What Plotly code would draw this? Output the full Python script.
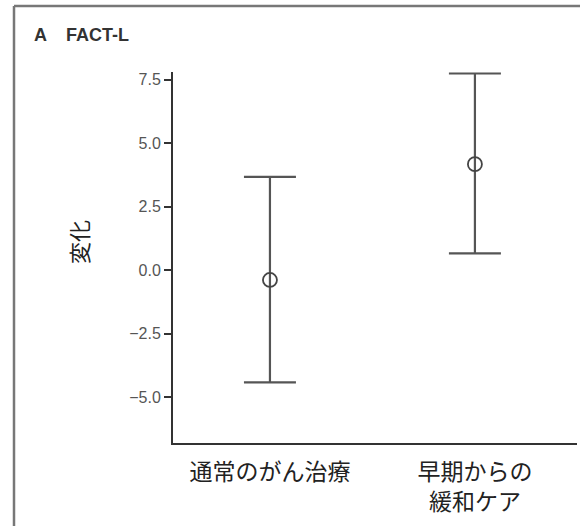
import plotly.graph_objects as go

categories = ["通常のがん治療", "早期からの<br>緩和ケア"]
means = [-0.39, 4.17]
upper = [3.67, 7.74]
lower = [-4.42, 0.66]
ytick_vals = [-5.0, -2.5, 0.0, 2.5, 5.0, 7.5]
ytick_text = ["−5.0", "−2.5", "0.0", "2.5", "5.0", "7.5"]

xpos = list(range(len(categories)))
err_plus = [u - m for u, m in zip(upper, means)]
err_minus = [m - l for m, l in zip(means, lower)]

fig = go.Figure()
fig.add_trace(go.Scatter(
    x=xpos, y=means, mode="markers",
    marker=dict(symbol="circle-open", size=14, color="#444444", line=dict(width=1.8)),
    error_y=dict(type="data", symmetric=False, array=err_plus, arrayminus=err_minus,
                 color="#555555", thickness=2.2, width=26),
    cliponaxis=False, showlegend=False, hoverinfo="skip",
))

W, H = 580, 526
L, R, T, B = 173, 3, 72, 83
pw, ph = W - L - R, H - T - B

def px(x):
    return (x - L) / pw

def py(y):
    return (H - B - y) / ph

fig.update_layout(
    width=W, height=H,
    margin=dict(l=L, r=R, t=T, b=B, pad=0),
    paper_bgcolor="white", plot_bgcolor="white",
    font=dict(family="Noto Sans CJK JP", color="#222222"),
    xaxis=dict(range=[-0.473, 1.498], tickvals=xpos, ticktext=categories,
               showline=True, linecolor="#333333", linewidth=2, showgrid=False,
               zeroline=False, ticks="", ticklabelstandoff=7,
               tickfont=dict(size=23, family="Noto Sans CJK JP", color="#222222"),
               fixedrange=True),
    yaxis=dict(range=[-6.81, 7.80], tickvals=ytick_vals, ticktext=ytick_text,
               showline=True, linecolor="#333333", linewidth=2, showgrid=False,
               zeroline=False, ticks="outside", ticklen=7, tickwidth=1.5, tickcolor="#333333",
               tickfont=dict(size=16, family="Liberation Sans", color="#555555"),
               fixedrange=True),
    shapes=[
        dict(type="line", xref="paper", yref="paper", x0=px(14), x1=px(580), y0=py(6), y1=py(6),
             line=dict(color="#777777", width=2.5)),
        dict(type="line", xref="paper", yref="paper", x0=px(14), x1=px(14), y0=py(6), y1=py(526),
             line=dict(color="#777777", width=2.5)),
    ],
    annotations=[
        dict(text="<b>A</b>", xref="paper", yref="paper", x=px(32), y=py(35),
             xanchor="left", yanchor="middle", showarrow=False,
             font=dict(size=18, family="Liberation Sans", color="#333333")),
        dict(text="<b>FACT-L</b>", xref="paper", yref="paper", x=px(64), y=py(35),
             xanchor="left", yanchor="middle", showarrow=False,
             font=dict(size=18, family="Liberation Sans Narrow, Liberation Sans", color="#333333")),
        dict(text="変化", xref="paper", yref="paper", x=px(78), y=py(242), textangle=-90,
             xanchor="center", yanchor="middle", showarrow=False,
             font=dict(size=22, family="Noto Sans CJK JP", color="#222222")),
    ],
)

fig.write_html("out.html", config={"displayModeBar": False},
               post_script="document.body.style.margin='0';")
